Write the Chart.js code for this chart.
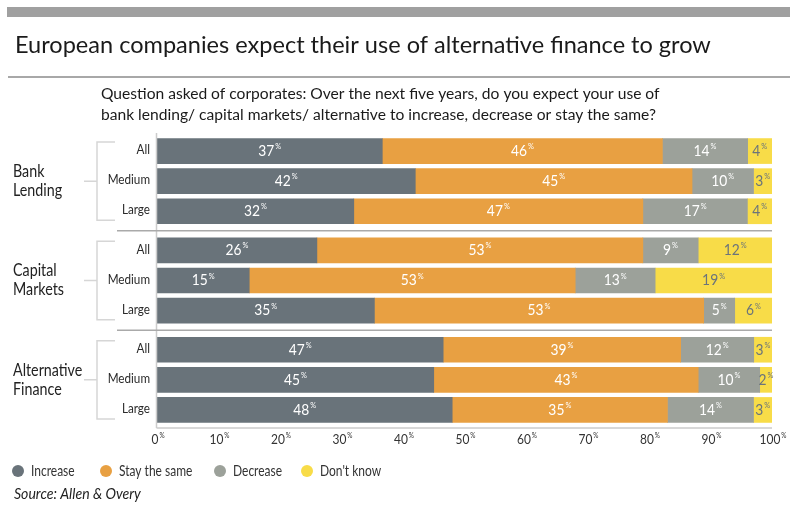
<!DOCTYPE html>
<html>
<head>
<meta charset="utf-8">
<script src="https://cdn.jsdelivr.net/npm/chart.js@4/dist/chart.umd.min.js"></script>
<style>
html,body{margin:0;padding:0;background:#fff;}
#wrap{position:relative;width:800px;height:509px;}
canvas{display:block;}
</style>
</head>
<body>
<div id="wrap"><canvas id="c" width="800" height="509"></canvas></div>
<script>
// ---- data ----
const groups = [["Bank", "Lending"], ["Capital", "Markets"], ["Alternative", "Finance"]];
const segments = ["All", "Medium", "Large"];
const seriesNames = ["Increase", "Stay the same", "Decrease", "Don't know"];
const increase  = [37, 42, 32, 26, 15, 35, 47, 45, 48];
const stay      = [46, 45, 47, 53, 53, 53, 39, 43, 35];
const decrease  = [14, 10, 17,  9, 13,  5, 12, 10, 14];
const dontKnow  = [ 4,  3,  4, 12, 19,  6,  3,  2,  3];
const xTicks = [0, 10, 20, 30, 40, 50, 60, 70, 80, 90, 100];

const title = "European companies expect their use of alternative finance to grow";
const subtitle = ["Question asked of corporates: Over the next five years, do you expect your use of",
                  "bank lending/ capital markets/ alternative to increase, decrease or stay the same?"];
const source = "Source: Allen & Overy";

// ---- styling ----
const colors = ["#69737a", "#e8a042", "#9ca19a", "#f8dc48"];
const labelColors = ["#ffffff", "#ffffff", "#ffffff", "#6b747b"];
const FONT = "Lato, 'Open Sans', sans-serif";
const GROUP_STEP = 3.3;

const series = [increase, stay, decrease, dontKnow];
const positions = [];
for (let g = 0; g < groups.length; g++) for (let r = 0; r < segments.length; r++) positions.push(g * GROUP_STEP + r);
const totals = increase.map((_, i) => series.reduce((s, arr) => s + arr[i], 0));

const datasets = series.map((arr, k) => ({
  label: seriesNames[k],
  data: arr.map((v, i) => ({ x: v / totals[i] * 100, y: positions[i] })),
  backgroundColor: colors[k],
  borderWidth: 0,
  barThickness: 25
}));

function sqText(ctx, text, x, y, sx, align) {
  ctx.save();
  const w = ctx.measureText(text).width * sx;
  let x0 = x;
  if (align === "right") x0 = x - w;
  else if (align === "center") x0 = x - w / 2;
  ctx.textAlign = "left";
  ctx.translate(x0, y);
  ctx.scale(sx, 1);
  ctx.fillText(text, 0, 0);
  ctx.restore();
}

function drawPct(ctx, num, cx, cy, size, color, sx) {
  sx = sx || 1;
  ctx.save();
  ctx.fillStyle = color;
  ctx.textBaseline = "middle";
  ctx.font = size + "px " + FONT;
  const w1 = ctx.measureText(String(num)).width * sx;
  const ps = Math.round(size * 0.55);
  ctx.font = ps + "px " + FONT;
  const w2 = ctx.measureText("%").width * sx;
  const total = w1 + 1 + w2;
  const x0 = cx - total / 2;
  ctx.font = size + "px " + FONT;
  sqText(ctx, String(num), x0, cy, sx, "left");
  ctx.font = ps + "px " + FONT;
  sqText(ctx, "%", x0 + w1 + 1, cy - size * 0.3, sx, "left");
  ctx.restore();
}

function fitFont(ctx, text, targetW, style) {
  ctx.font = (style || "") + " 20px " + FONT;
  const w = ctx.measureText(text).width;
  return 20 * targetW / w;
}

const decorPlugin = {
  id: "decor",
  beforeDraw(chart) {
    const ctx = chart.ctx;
    ctx.save();
    ctx.fillStyle = "#fff";
    ctx.fillRect(0, 0, chart.width, chart.height);
    ctx.fillStyle = "#a0a0a0";
    ctx.fillRect(7, 7, 783, 10);
    const ts = fitFont(ctx, title, 696);
    ctx.font = ts + "px " + FONT;
    ctx.fillStyle = "#1a1a1a";
    ctx.textBaseline = "alphabetic";
    ctx.fillText(title, 15, 53);
    ctx.fillStyle = "#a8a8a8";
    ctx.fillRect(8, 76, 782, 2);
    const ss = fitFont(ctx, subtitle[0], 559);
    ctx.font = ss + "px " + FONT;
    ctx.fillStyle = "#1a1a1a";
    ctx.fillText(subtitle[0], 101, 99);
    ctx.fillText(subtitle[1], 101, 120);
    ctx.restore();
  },
  afterDatasetsDraw(chart) {
    const ctx = chart.ctx;
    const ys = chart.scales.y, xs = chart.scales.x;
    const ca = chart.chartArea;
    ctx.save();
    chart.data.datasets.forEach((ds, k) => {
      const meta = chart.getDatasetMeta(k);
      meta.data.forEach((el, i) => {
        const cx = (el.x + el.base) / 2;
        drawPct(ctx, series[k][i], cx, el.y, 15, labelColors[k], 0.92);
      });
    });
    ctx.strokeStyle = "#cccccc";
    ctx.lineWidth = 1.5;
    ctx.beginPath();
    ctx.moveTo(ca.left - 0.5, ca.top);
    ctx.lineTo(ca.left - 0.5, ca.bottom);
    ctx.moveTo(ca.left - 0.5, ca.bottom);
    ctx.lineTo(ca.right, ca.bottom);
    ctx.stroke();
    ctx.strokeStyle = "#aaaaaa";
    for (let g = 1; g < groups.length; g++) {
      const y = ys.getPixelForValue(g * GROUP_STEP - (GROUP_STEP - 2) / 2);
      ctx.beginPath();
      ctx.moveTo(117, y);
      ctx.lineTo(ca.right, y);
      ctx.stroke();
    }
    xTicks.forEach(t => {
      drawPct(ctx, t, xs.getPixelForValue(t) + 1, ca.bottom + 12, 13, "#333", 0.92);
    });
    ctx.fillStyle = "#2a2a2a";
    ctx.textBaseline = "middle";
    ctx.font = "13px " + FONT;
    positions.forEach((p, i) => {
      sqText(ctx, segments[i % segments.length], 150, ys.getPixelForValue(p) - 1, 0.9, "right");
    });
    groups.forEach((lines, g) => {
      const top = ys.getPixelForValue(g * GROUP_STEP - 0.3);
      const bot = ys.getPixelForValue(g * GROUP_STEP + 2.3);
      const mid = ys.getPixelForValue(g * GROUP_STEP + 1);
      ctx.strokeStyle = "#d6d6d6";
      ctx.lineWidth = 1.5;
      ctx.beginPath();
      ctx.moveTo(115, top); ctx.lineTo(97, top); ctx.lineTo(97, bot); ctx.lineTo(115, bot);
      ctx.moveTo(84, mid); ctx.lineTo(97, mid);
      ctx.stroke();
      ctx.fillStyle = "#222";
      ctx.font = "17px " + FONT;
      sqText(ctx, lines[0], 13, mid - 9.5, 0.84, "left");
      sqText(ctx, lines[1], 13, mid + 9.5, 0.84, "left");
    });
    const lx = [18, 106, 220, 307];
    seriesNames.forEach((n, k) => {
      ctx.fillStyle = colors[k];
      ctx.beginPath();
      ctx.arc(lx[k], 471, 6, 0, Math.PI * 2);
      ctx.fill();
      ctx.fillStyle = "#333";
      ctx.font = "15px " + FONT;
      sqText(ctx, n, lx[k] + 13, 471, 0.8, "left");
    });
    ctx.font = "italic 16px " + FONT;
    ctx.fillStyle = "#222";
    sqText(ctx, source, 14, 494, 0.88, "left");
    ctx.restore();
  }
};

new Chart(document.getElementById("c"), {
  type: "bar",
  data: { datasets },
  options: {
    indexAxis: "y",
    responsive: false,
    animation: false,
    events: [],
    layout: { padding: { left: 157, right: 28, top: 133, bottom: 81 } },
    plugins: { legend: { display: false }, tooltip: { enabled: false } },
    scales: {
      x: { type: "linear", min: 0, max: 100, stacked: true, display: false },
      y: { type: "linear", min: -0.6, max: 2 * GROUP_STEP + 2.6, reverse: true, stacked: true, offset: false, display: false }
    }
  },
  plugins: [decorPlugin]
});
</script>
</body>
</html>
